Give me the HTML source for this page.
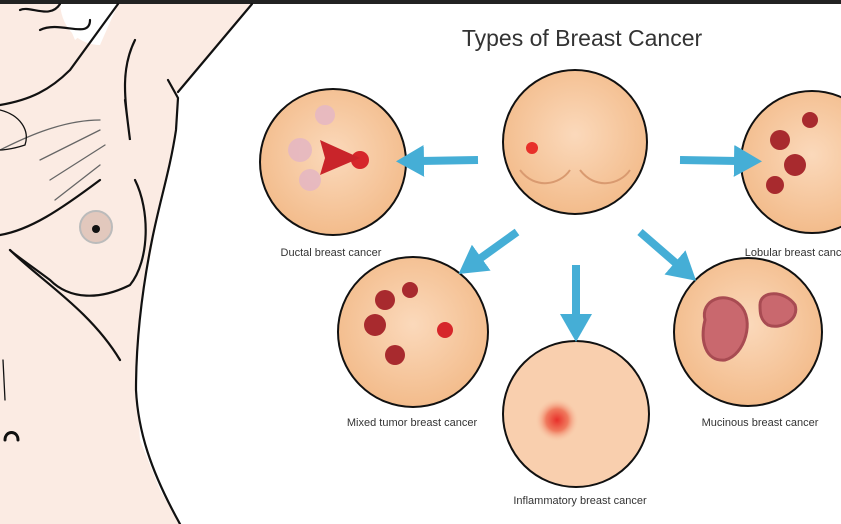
<!DOCTYPE html>
<html><head><style>
body{margin:0;width:841px;height:524px;overflow:hidden;background:#fff;font-family:"Liberation Sans",sans-serif}
svg{position:absolute;left:0;top:0}
</style></head><body>
<svg width="841" height="524" viewBox="0 0 841 524">
<defs>
<radialGradient id="sk" cx="50%" cy="45%" r="60%"><stop offset="0" stop-color="#fbd9bb"/><stop offset="1" stop-color="#f2b987"/></radialGradient>
<radialGradient id="inf" cx="50%" cy="50%" r="50%"><stop offset="0" stop-color="#e8302a"/><stop offset="0.5" stop-color="#f07a5e"/><stop offset="1" stop-color="#f9cfae" stop-opacity="0"/></radialGradient>
<marker id="ar" markerUnits="userSpaceOnUse" markerWidth="28" markerHeight="32" refX="4" refY="16" orient="auto"><path d="M0,0 L28,16 L0,32 z" fill="#45aed6"/></marker>
</defs>
<rect x="0" y="0" width="841" height="4" fill="#222"/>
<!-- body -->
<path d="M0,4 L60,4 L75,40 L118,4 L252,4 L178,92 L176,130 L158,215 L142,300 L136,380 L140,440 L160,490 L180,524 L0,524 Z" fill="#fbebe3"/>
<path d="M60,4 C62,30 80,45 100,45 L118,4 Z" fill="#fff"/>
<g fill="none" stroke="#111" stroke-width="2.2" stroke-linecap="round">
<path d="M252,4 L178,92"/>
<path d="M168,80 L178,98 L176,130 C170,170 160,200 152,240 C142,290 136,340 136,390 C138,430 150,470 180,524"/>
<path d="M118,4 L70,70 C50,90 30,100 0,105"/>
<path d="M135,40 C120,70 125,100 130,140 L125,100"/>
<path d="M135,180 C150,210 150,260 130,285 C100,300 70,300 50,280 C30,265 15,255 10,250"/>
<path d="M10,250 C40,280 90,310 120,360"/>
<path d="M0,235 C30,230 60,210 100,180"/>
<path d="M20,10 C30,5 50,20 60,4"/>
<path d="M40,30 C60,20 90,40 90,20"/>
<path d="M0,150 C20,140 60,120 100,120 M40,160 L100,130 M50,180 L105,145 M55,200 L100,165" stroke-width="1.3" stroke="#666"/>
<path d="M0,110 C20,115 30,130 25,145 C10,150 0,150 0,150" stroke-width="1.3"/>
<path d="M3,360 L5,400" stroke-width="1.3"/>
<path d="M5,440 C5,430 18,430 18,440" stroke-width="3"/>
</g>
<circle cx="96" cy="227" r="16" fill="#e2c8bd" stroke="#bbb" stroke-width="2"/>
<circle cx="96" cy="229" r="4" fill="#111"/>
<!-- title -->
<text x="582" y="46" font-size="23" fill="#333" text-anchor="middle">Types of Breast Cancer</text>
<!-- circles -->
<g stroke="#111" stroke-width="2">
<circle cx="575" cy="142" r="72" fill="url(#sk)"/>
<circle cx="333" cy="162" r="73" fill="url(#sk)"/>
<circle cx="812" cy="162" r="71" fill="url(#sk)"/>
<circle cx="413" cy="332" r="75" fill="url(#sk)"/>
<circle cx="748" cy="332" r="74" fill="url(#sk)"/>
<circle cx="576" cy="414" r="73" fill="#f9cfae"/>
</g>
<circle cx="532" cy="148" r="6" fill="#e8302a"/>
<g fill="none" stroke="#d99a70" stroke-width="2"><path d="M520,170 C535,190 560,185 570,170 M580,170 C595,190 620,185 630,170"/></g>
<circle cx="557" cy="420" r="22" fill="url(#inf)"/>
<!-- tumors -->
<g fill="#a82a2e">
<circle cx="360" cy="160" r="9" fill="#d6262a"/>
<path d="M320,140 L360,158 L320,175 L325,158 Z" fill="#c9242a"/>
<circle cx="780" cy="140" r="10"/><circle cx="795" cy="165" r="11"/><circle cx="775" cy="185" r="9"/><circle cx="810" cy="120" r="8"/>
<circle cx="385" cy="300" r="10"/><circle cx="375" cy="325" r="11"/><circle cx="395" cy="355" r="10"/><circle cx="410" cy="290" r="8"/>
<circle cx="445" cy="330" r="8" fill="#d6262a"/>
</g>
<g fill="#e6b8c2" opacity="0.9"><circle cx="300" cy="150" r="12"/><circle cx="310" cy="180" r="11"/><circle cx="325" cy="115" r="10"/></g>
<path d="M705,320 C700,300 725,290 740,305 C755,320 745,355 725,360 C705,362 700,340 705,320Z" fill="#c9686e" stroke="#a84b52" stroke-width="3"/>
<path d="M760,305 C760,290 785,290 795,305 C800,320 780,330 768,325 C760,320 760,312 760,305Z" fill="#c9686e" stroke="#a84b52" stroke-width="3"/>
<!-- arrows -->
<g stroke="#45aed6" stroke-width="8" fill="none" marker-end="url(#ar)">
<path d="M478,160 L420,161"/>
<path d="M680,160 L738,161"/>
<path d="M517,232 L478,260"/>
<path d="M640,232 L678,265"/>
<path d="M576,265 L576,318"/>
</g>
<!-- labels -->
<g font-size="11" fill="#333" text-anchor="middle">
<text x="331" y="256">Ductal breast cancer</text>
<text x="798" y="256">Lobular breast cancer</text>
<text x="412" y="426">Mixed tumor breast cancer</text>
<text x="760" y="426">Mucinous breast cancer</text>
<text x="580" y="504">Inflammatory breast cancer</text>
</g>
</svg>
</body></html>
